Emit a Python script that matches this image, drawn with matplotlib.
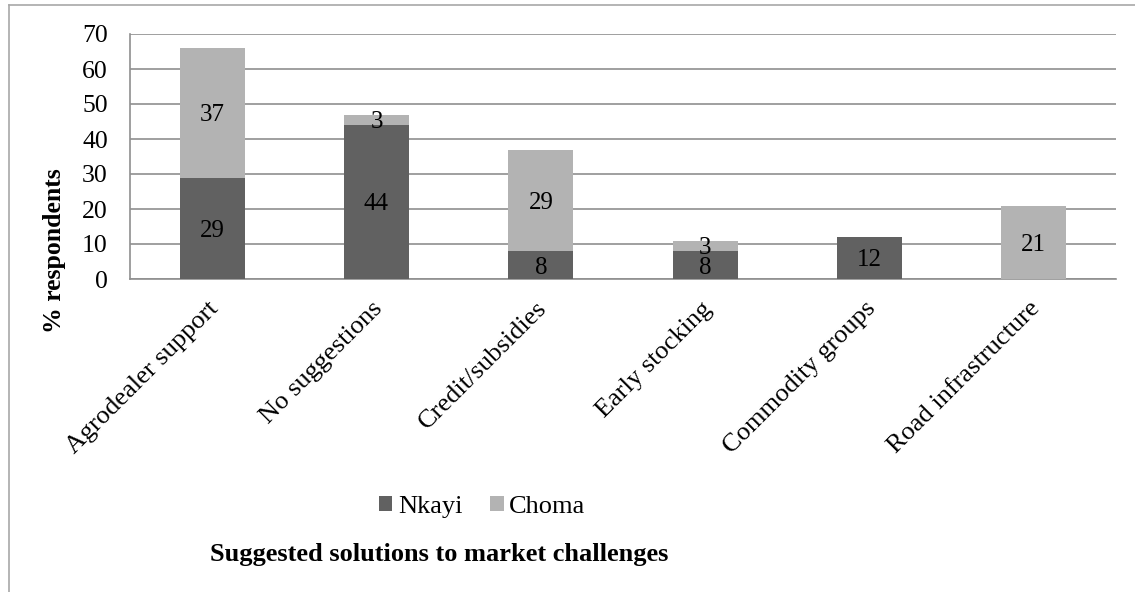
import numpy as np
import matplotlib.pyplot as plt
from matplotlib.lines import Line2D
from matplotlib.transforms import ScaledTranslation

serif = ['Liberation Serif', 'DejaVu Serif']
plt.rcParams['font.family'] = serif

#categories + % respondents per district
solutions = ["Agrodealer support", "No suggestions", "Credit/subsidies",
             "Early stocking", "Commodity groups", "Road infrastructure"]
nkayi = [29, 44, 8, 8, 12, 0]
choma = [37, 3, 29, 3, 0, 21]
yticks = [0, 10, 20, 30, 40, 50, 60, 70]

dark = "#616161"
light = "#b3b3b3"
gridc = "#8f8f8f"

W, H = 1135, 592
fig = plt.figure(figsize=(W/100, H/100), dpi=100)
ax = fig.add_axes([130/W, 1-279/H, 986/W, 245/H])

x = np.arange(len(solutions))
bw = 0.395
b1 = ax.bar(x, nkayi, bw, color=dark, label="Nkayi", zorder=3)
b2 = ax.bar(x, choma, bw, bottom=nkayi, color=light, label="Choma", zorder=3)

#value labels in the middle of each segment
for i in range(len(solutions)):
    if nkayi[i] > 0:
        ax.text(x[i], nkayi[i]/2, str(nkayi[i]), ha="center",
                va="center_baseline", fontsize=18, zorder=4)
    if choma[i] > 0:
        ax.text(x[i], nkayi[i] + choma[i]/2, str(choma[i]), ha="center",
                va="center_baseline", fontsize=18, zorder=4)

ax.set_xlim(-0.5, len(solutions)-0.5)
ax.set_ylim(0, 70)
ax.set_yticks(yticks)
ax.yaxis.grid(True, color=gridc, lw=1.2, zorder=0)
ax.tick_params(axis="y", length=0, pad=16, labelsize=18.5)
ax.tick_params(axis="x", length=0, pad=19, labelsize=19)
for s in ["top", "right"]:
    ax.spines[s].set_visible(False)
ax.spines["left"].set_color(gridc)
ax.spines["bottom"].set_color(gridc)
ax.spines["left"].set_linewidth(1.2)
ax.spines["bottom"].set_linewidth(1.2)

ax.set_xticks(x)
ax.set_xticklabels(solutions, rotation=45, ha="right", va="center",
                   rotation_mode="anchor")
shift = ScaledTranslation(3/100, 0, fig.dpi_scale_trans)
for lbl in ax.get_xticklabels():
    lbl.set_transform(lbl.get_transform() + shift)

fig.text(54/W, 1-251/H, "% respondents", rotation=90, ha="center",
         va="center", fontsize=18.5, fontweight="bold")
fig.text(439/W, 1-555/H, "Suggested solutions to market challenges",
         ha="center", va="center", fontsize=19, fontweight="bold")

leg = fig.legend(handles=[b1, b2], loc="center",
                 bbox_to_anchor=(482/W, 1-507/H), ncol=2, frameon=False,
                 fontsize=19, handlelength=0.53, handleheight=0.53,
                 handletextpad=0.2, columnspacing=1.05)
for t in leg.get_texts():
    t.set_fontfamily(serif)
    t.set_fontsize(19)

#outer chart border (left + top edges)
fig.add_artist(Line2D([9/W, 9/W], [0, 1-5/H], color="#a8a8a8", lw=1.2))
fig.add_artist(Line2D([9/W, 1], [1-5/H, 1-5/H], color="#a8a8a8", lw=1.2))

fig.savefig("out.png", dpi=100, facecolor="white")
